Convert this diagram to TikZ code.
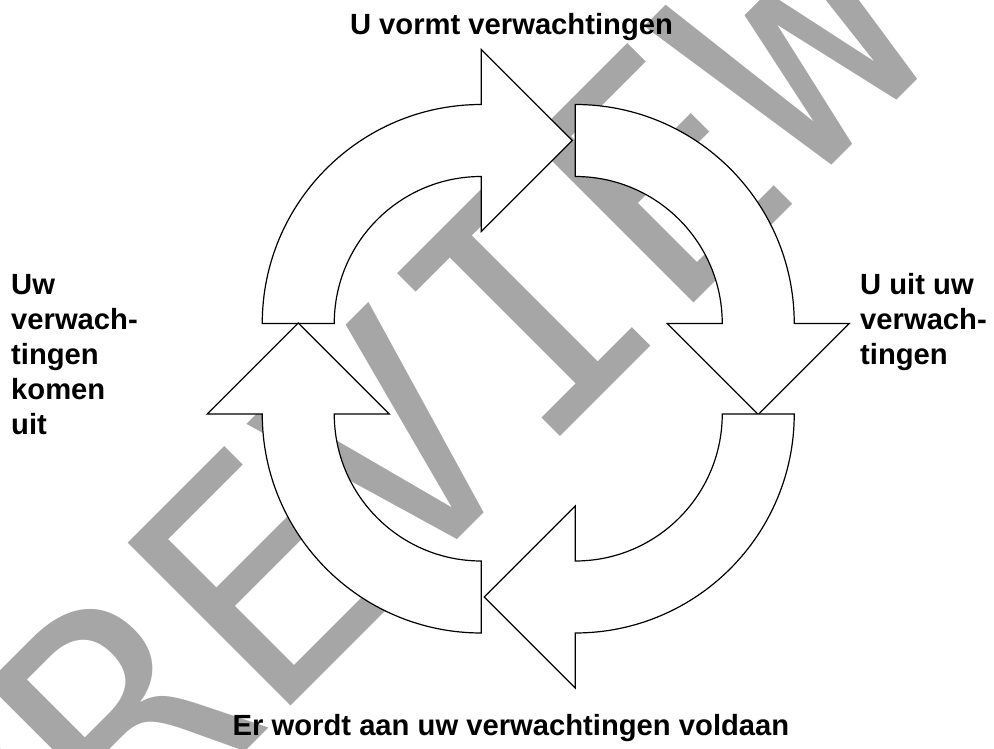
\documentclass[tikz,border=0pt]{standalone}
\usepackage{fontspec}
\setmainfont{Liberation Sans}
\newfontfamily\wmfont{DejaVu Sans Mono}
\definecolor{wmgray}{RGB}{166,166,166}
\begin{document}
\begin{tikzpicture}[x=1pt,y=1pt,
  cyclearrow/.style={draw=black, line width=1.2pt, fill=white, line join=miter},
  cyclelabel/.style={font=\fontsize{29.2}{35}\selectfont\bfseries, inner sep=0pt, align=left},
  watermark/.style={font=\wmfont\fontsize{316}{316}\selectfont, text=wmgray,
    inner sep=0pt, rotate=45, anchor=base west},
  pics/ringarrow/.style={code={
    % quarter ring from the left to the top, head pointing clockwise
    \draw[cyclearrow] (-219,0) arc[start angle=180, end angle=90, radius=219]
      -- (0,274) -- (91,183) -- (0,92) -- (0,147)
      arc[start angle=90, end angle=180, radius=147] -- cycle;
  }}]
\useasboundingbox (0,0) rectangle (994,749);

% background watermark
\node[watermark] (wm) at (0,-248) {PREVIEW};

% the four arrows of the cycle
\pic (tl) at (481.25,425.5) {ringarrow};
\pic[rotate=-90] (tr) at (575.25,425.5) {ringarrow};
\pic[rotate=-180] (br) at (575.25,335) {ringarrow};
\pic[rotate=90] (bl) at (481.25,335) {ringarrow};

% labels (multi-line ones are placed by the baseline of their last line)
\node[cyclelabel, anchor=base] (ttop) at (511.5,714) {U vormt verwachtingen};
\node[cyclelabel, anchor=base] (tbottom) at (511,13) {Er wordt aan uw verwachtingen voldaan};
\node[cyclelabel, anchor=base west] (tleft) at (11,314) {Uw\\verwach-\\tingen\\komen\\uit};
\node[cyclelabel, anchor=base west] (tright) at (860,384) {U uit uw\\verwach-\\tingen};
\end{tikzpicture}
\end{document}
